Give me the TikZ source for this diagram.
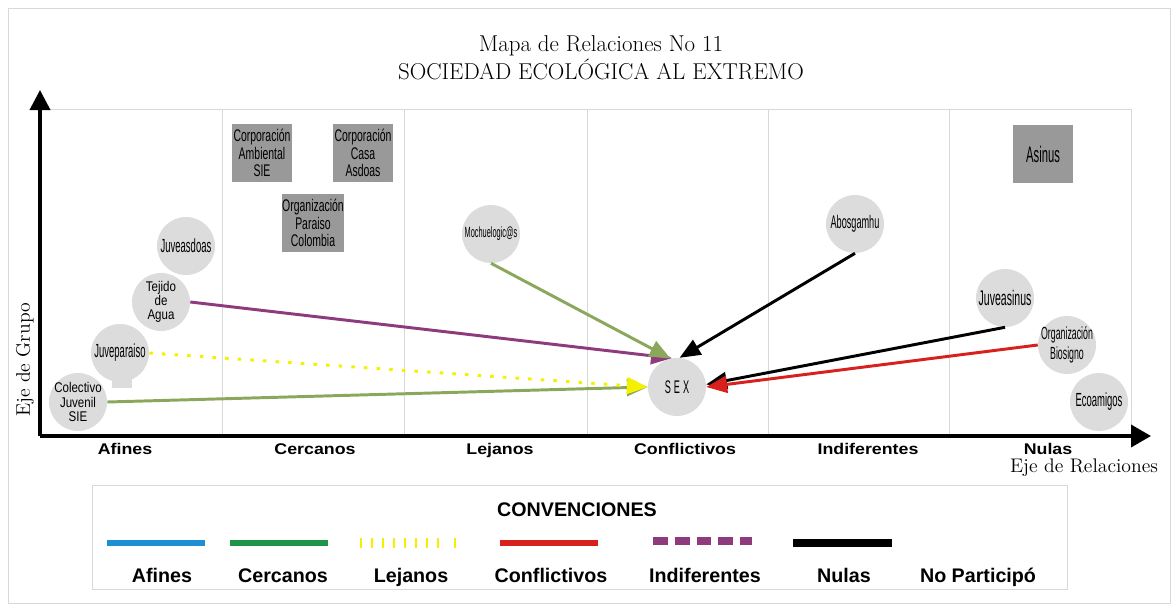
\documentclass[tikz,border=0pt]{standalone}
\usepackage{fontspec}
\setsansfont{Liberation Sans}
\newfontfamily\narrowfont[FakeStretch=0.5]{Liberation Sans}
\newfontfamily\boxfont[FakeStretch=0.62]{Liberation Sans}
\newfontfamily\blobfont[FakeStretch=0.82]{Liberation Sans}
\newfontfamily\widefont[FakeStretch=1.15]{Liberation Sans}
\usetikzlibrary{arrows.meta}

\definecolor{blobgray}{HTML}{DCDCDC}
\definecolor{boxgray}{HTML}{999999}
\definecolor{gridgray}{HTML}{D8D8D8}
\definecolor{relpurple}{HTML}{8E3B7E}
\definecolor{relolive}{HTML}{8BA75B}
\definecolor{relyellow}{HTML}{F5F000}
\definecolor{relred}{HTML}{D8201C}
\definecolor{legblue}{HTML}{1E8FD2}
\definecolor{leggreen}{HTML}{1E9448}

\tikzset{
  blob/.style={circle, fill=blobgray, minimum size=1.45cm, inner sep=-8pt, align=center},
  caja/.style={rectangle, fill=boxgray, minimum width=1.5cm, minimum height=1.45cm, inner sep=0pt, align=center, font=\boxfont\fontsize{12}{12.5}\selectfont},
  colname/.style={anchor=base, font=\widefont\bfseries\fontsize{11}{12}\selectfont},
  legname/.style={anchor=base, font=\sffamily\bfseries\fontsize{14}{16}\selectfont},
  rel/.style={line width=2.1pt, -{Triangle[length=5.2mm,width=4.2mm]}},
  legline/.style={line width=4pt}
}

\begin{document}
\begin{tikzpicture}[x=0.025cm, y=-0.025cm]
    \useasboundingbox (0,0) rectangle (1174,610);
    \draw [gridgray, line width=0.6pt] (8,8) rectangle (1170,603);

    % title
    \node (titulo) at (601,58) [align=center, font=\fontsize{16.3}{20}\selectfont]
        {Mapa de Relaciones No 11\\SOCIEDAD ECOLÓGICA AL EXTREMO};

    % grid
    \draw [gridgray, line width=0.7pt] (40,109) -- (1131,109) -- (1131,436);
    \foreach \x in {222,404,587,768,949}
        \draw [gridgray, line width=0.6pt] (\x,109) -- (\x,436);

    % axes
    \coordinate (origen) at (40,436);
    \coordinate (ytop) at (40,90);
    \coordinate (xend) at (1151,436);
    \draw [line width=2.6pt, -{Triangle[length=5mm,width=5mm]}] (origen) -- (ytop);
    \draw [line width=2.6pt, -{Triangle[length=5mm,width=5.5mm]}] (origen) -- (xend);
    \node (ejeg) at (25,360) [rotate=90, font=\fontsize{14}{16}\selectfont] {Eje de Grupo};
    \node (ejer) at (1084,468) [font=\fontsize{14}{16}\selectfont] {Eje de Relaciones};

    \node (afines) at (125,454) [colname] {Afines};
    \node (cercanos) at (315,454) [colname] {Cercanos};
    \node (lejanos) at (500,454) [colname] {Lejanos};
    \node (conflictivos) at (685,454) [colname] {Conflictivos};
    \node (indiferentes) at (868,454) [colname] {Indiferentes};
    \node (nulas) at (1048,454) [colname] {Nulas};

    % boxes
    \node (ambiental) at (262,153) [caja] {Corporación\\Ambiental\\SIE};
    \node (casa) at (363,153) [caja] {Corporación\\Casa\\Asdoas};
    \node (paraiso) at (313,223) [caja] {Organización\\Paraiso\\Colombia};
    \node (asinus) at (1043,154) [caja, font=\narrowfont\fontsize{16}{18}\selectfont] {Asinus};

    % circles
    \fill [blobgray] (112,377) rectangle (132,388);
    \node (colectivo) at (78,402) [blob, font=\blobfont\fontsize{10}{10}\selectfont] {Colectivo\\Juvenil\\SIE};
    \node (juveparaiso) at (120,353) [blob, font=\narrowfont\fontsize{13.5}{15}\selectfont] {Juveparaiso};
    \node (tejido) at (161,302) [blob, font=\blobfont\fontsize{10}{10}\selectfont] {Tejido\\de\\Agua};
    \node (juveasdoas) at (186,246) [blob, font=\narrowfont\fontsize{13.5}{15}\selectfont] {Juveasdoas};
    \node (mochuelo) at (491,234) [blob, font=\narrowfont\fontsize{10.5}{12}\selectfont] {Mochuelogic@s};
    \node (sex) at (677,387) [blob, font=\narrowfont\fontsize{13}{15}\selectfont] {S\,E\,X};
    \node (abosgamhu) at (855,224) [blob, font=\narrowfont\fontsize{13}{15}\selectfont] {Abosgamhu};
    \node (juveasinus) at (1005,298) [blob, font=\narrowfont\fontsize{15}{17}\selectfont] {Juveasinus};
    \node (biosigno) at (1067,345) [blob, font=\narrowfont\fontsize{12.5}{14}\selectfont] {Organización\\Biosigno};
    \node (ecoamigos) at (1099,402) [blob, font=\narrowfont\fontsize{13.5}{15}\selectfont] {Ecoamigos};

    % relations
    \draw [rel, relolive] (colectivo.east) -- (sex.west);
    \draw [rel, relyellow, dash pattern=on 2.5pt off 6.5pt] (juveparaiso.east) -- (sex.west);
    \draw [rel, relpurple] (tejido.east) -- (sex.100);
    \draw [rel, relolive] (mochuelo.south) -- (sex.103);
    \draw [rel, black] (abosgamhu.south) -- (sex.85);
    \draw [rel, black] (juveasinus.south) -- (sex.5);
    \draw [rel, relred] (biosigno.west) -- (sex.east);

    % legend
    \draw [gridgray, line width=0.7pt] (92,485) rectangle (1067,589);
    \node (conv) at (577,510) [font=\sffamily\bfseries\fontsize{14}{16}\selectfont] {CONVENCIONES};
    \draw [legline, legblue] (107,543) -- (205,543);
    \draw [legline, leggreen] (230,543) -- (328,543);
    \draw [line width=7pt, relyellow, dash pattern=on 1.5pt off 6.3pt] (360,543) -- (446,543);
    \draw [line width=7pt, relyellow] (454,543) -- (455.5,543);
    \draw [legline, relred] (500,543) -- (598,543);
    \draw [line width=5pt, relpurple, dash pattern=on 10.5pt off 5pt] (653,541) -- (752,541);
    \draw [line width=5pt, black] (793,543) -- (892,543);
    \node (lafines) at (162,582) [legname] {Afines};
    \node (lcercanos) at (283,582) [legname] {Cercanos};
    \node (llejanos) at (411,582) [legname] {Lejanos};
    \node (lconflictivos) at (551,582) [legname] {Conflictivos};
    \node (lindiferentes) at (705,582) [legname] {Indiferentes};
    \node (lnulas) at (844,582) [legname] {Nulas};
    \node (lnop) at (978,582) [legname] {No Participó};
\end{tikzpicture}
\end{document}
